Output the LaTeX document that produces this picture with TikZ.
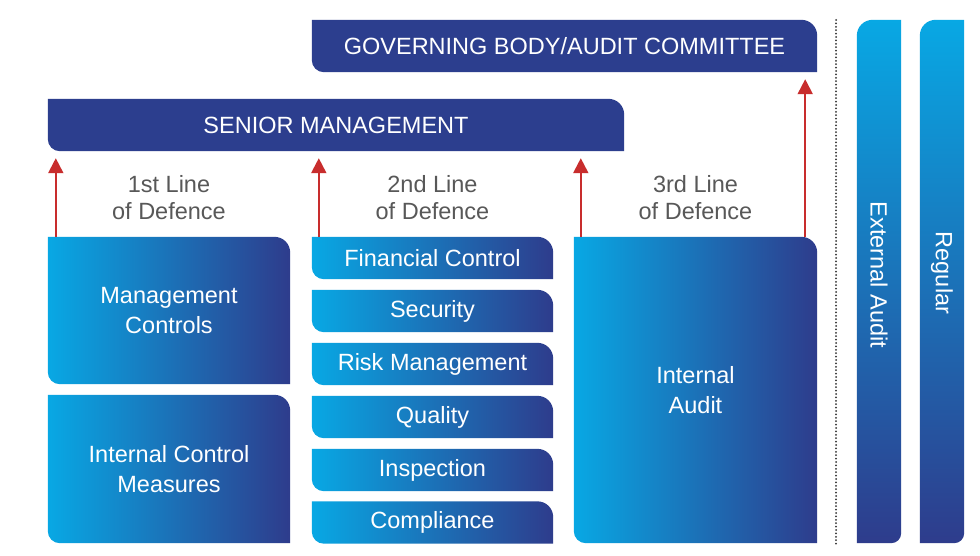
\documentclass[tikz,border=0pt]{standalone}
\usepackage{fontspec}
\setmainfont{Liberation Sans}
\usetikzlibrary{backgrounds,arrows.meta}
\definecolor{cLight}{RGB}{8,168,228}
\definecolor{cDark}{RGB}{46,60,140}
\definecolor{cBanner}{RGB}{44,62,142}
\definecolor{cArrow}{RGB}{200,45,45}
\definecolor{cLabel}{RGB}{88,88,88}
\definecolor{cDots}{RGB}{50,50,50}
% outline with rounded top-right and bottom-left corners
\newcommand\hshapepath[1]{%
    (#1.north west) -- ([xshift=-16pt]#1.north east)
    .. controls ([xshift=-7pt]#1.north east) and ([yshift=-7pt]#1.north east) .. ([yshift=-16pt]#1.north east)
    -- (#1.south east)
    -- ([xshift=12pt]#1.south west)
    .. controls ([xshift=5.4pt]#1.south west) and ([yshift=5.4pt]#1.south west) .. ([yshift=12pt]#1.south west)
    -- cycle}
% outline with rounded top-left and bottom-right corners
\newcommand\vshapepath[1]{%
    (#1.north east) -- ([xshift=16pt]#1.north west)
    .. controls ([xshift=7pt]#1.north west) and ([yshift=-7pt]#1.north west) .. ([yshift=-16pt]#1.north west)
    -- (#1.south west)
    -- ([xshift=-10pt]#1.south east)
    .. controls ([xshift=-4.5pt]#1.south east) and ([yshift=4.5pt]#1.south east) .. ([yshift=10pt]#1.south east)
    -- cycle}
\newcommand\hshapefill[1]{\shade[left color=cLight,right color=cDark] \hshapepath{#1};}
\newcommand\bannerfill[1]{\fill[cBanner] \hshapepath{#1};}
\newcommand\vshapefill[1]{\shade[top color=cLight,bottom color=cDark] \vshapepath{#1};}
\begin{document}
\begin{tikzpicture}[x=1pt,y=-1pt,
  boxtext/.style={text=white,font=\fontsize{23.5}{30}\selectfont,align=center,inner sep=0pt},
  bannertext/.style={text=white,font=\fontsize{23.5}{30}\selectfont,align=center,inner sep=0pt},
  labeltext/.style={text=cLabel,font=\fontsize{23.5}{27.5}\selectfont,align=center,inner sep=0pt},
  redarrow/.style={draw=cArrow,line width=2pt,-{Triangle[length=15pt,width=15pt]}}]
\useasboundingbox (0,0) rectangle (980,556);

% banners
\node[bannertext,minimum width=505pt,minimum height=52pt] (gb) at (564.5,46) {GOVERNING BODY/AUDIT COMMITTEE};
\node[bannertext,minimum width=576pt,minimum height=52pt] (sm) at (336,125) {SENIOR MANAGEMENT};

% column 1
\node[boxtext,minimum width=242pt,minimum height=147pt] (mc) at (169,310.5) {Management\\Controls};
\node[boxtext,minimum width=242pt,minimum height=148pt] (icm) at (169,469) {Internal Control\\Measures};

% column 2
\node[boxtext,minimum width=241pt,minimum height=42pt] (fc) at (432.5,258) {Financial Control};
\node[boxtext,minimum width=241pt,minimum height=42pt] (sec) at (432.5,311) {Security};
\node[boxtext,minimum width=241pt,minimum height=42pt] (rm) at (432.5,364) {Risk Management};
\node[boxtext,minimum width=241pt,minimum height=42pt] (qu) at (432.5,417) {Quality};
\node[boxtext,minimum width=241pt,minimum height=42pt] (ins) at (432.5,470) {Inspection};
\node[boxtext,minimum width=241pt,minimum height=42pt] (com) at (432.5,522.5) {Compliance};

% column 3
\node[boxtext,minimum width=243pt,minimum height=306pt] (ia) at (695.5,390) {Internal\\Audit};

% vertical bars
\node[minimum width=44pt,minimum height=523pt,inner sep=0pt] (ea) at (879,281.5) {};
\node[minimum width=44pt,minimum height=523pt,inner sep=0pt] (rg) at (942,281.5) {};
\node[boxtext,rotate=-90] (eat) at (879,275) {External Audit};
\node[boxtext,rotate=-90] (rgt) at (942,273) {Regular};

% labels
\node[labeltext] (l1) at (169,197.5) {1st Line\\of Defence};
\node[labeltext] (l2) at (432.5,197.5) {2nd Line\\of Defence};
\node[labeltext] (l3) at (695.5,197.5) {3rd Line\\of Defence};

% dotted divider
\coordinate (dtop) at (836,20);
\coordinate (dbot) at (836,545);
\draw[cDots,line width=2pt,line cap=round,dash pattern=on 0pt off 3.4pt] (dtop) -- (dbot);

\begin{scope}[on background layer]
  \fill[white] (0,0) rectangle (980,556);
  \bannerfill{gb}
  \bannerfill{sm}
  \hshapefill{mc}
  \hshapefill{icm}
  \hshapefill{fc}
  \hshapefill{sec}
  \hshapefill{rm}
  \hshapefill{qu}
  \hshapefill{ins}
  \hshapefill{com}
  \hshapefill{ia}
  \vshapefill{ea}
  \vshapefill{rg}
\end{scope}

% arrows
\draw[redarrow,shorten >=7pt] ([xshift=8pt]mc.north west) -- ([xshift=8pt]mc.north west |- sm.south);
\draw[redarrow,shorten >=7pt] ([xshift=7pt]fc.north west) -- ([xshift=7pt]fc.north west |- sm.south);
\draw[redarrow,shorten >=7pt] ([xshift=7pt]ia.north west) -- ([xshift=7pt]ia.north west |- sm.south);
\draw[redarrow,shorten >=7pt] ([xshift=-12pt]ia.north east) -- ([xshift=-12pt]ia.north east |- gb.south);
\end{tikzpicture}
\end{document}
